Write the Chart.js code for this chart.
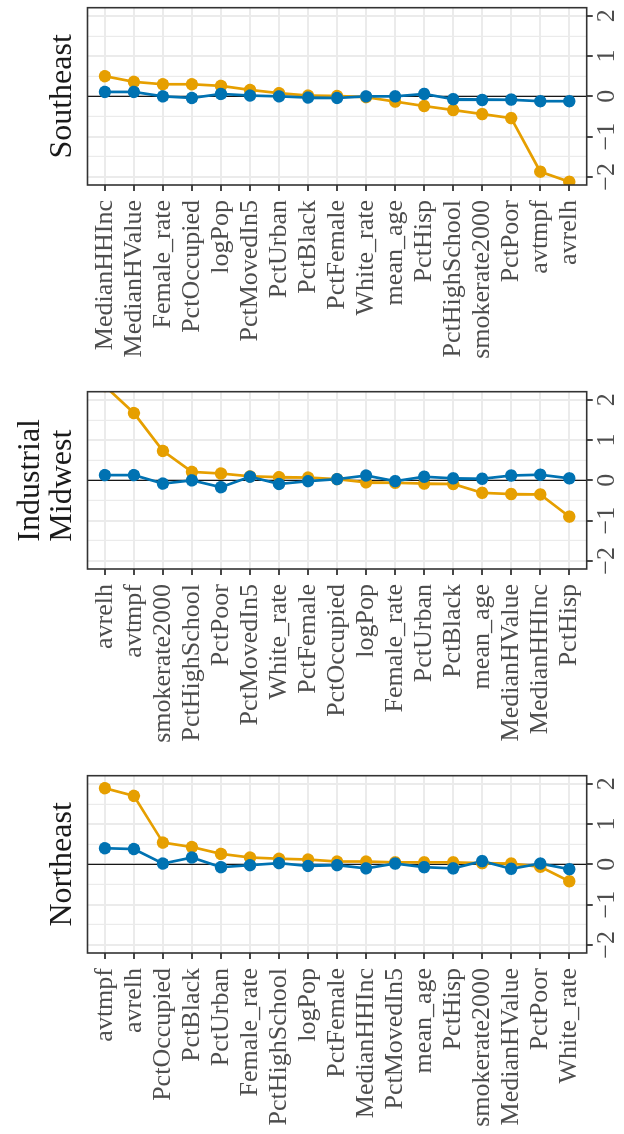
<!DOCTYPE html>
<html>
<head>
<meta charset="utf-8">
<script src="https://cdn.jsdelivr.net/npm/chart.js@4.4.0/dist/chart.umd.min.js"></script>
<style>
  html, body { margin: 0; padding: 0; background: #fff; overflow: hidden; }
  /* the figure is laid out landscape, then turned a quarter left */
  #page { position: absolute; left: 0; top: 0; width: 1134px; height: 624px;
          transform-origin: 0 0; transform: translateY(1134px) rotate(-90deg); }
  #page canvas { position: absolute; top: 0; }
</style>
</head>
<body>
<div id="page">
  <canvas id="ne" width="366" height="624" style="left:0px"></canvas>
  <canvas id="mw" width="366" height="624" style="left:384px"></canvas>
  <canvas id="se" width="366" height="624" style="left:768px"></canvas>
</div>
<script>
// Northeast
const neVars = ["avtmpf", "avrelh", "PctOccupied", "PctBlack", "PctUrban", "Female_rate",
  "PctHighSchool", "logPop", "PctFemale", "MedianHHInc", "PctMovedIn5", "mean_age",
  "PctHisp", "smokerate2000", "MedianHValue", "PctPoor", "White_rate"];
const neOrange = [1.89, 1.70, 0.54, 0.43, 0.26, 0.17, 0.14, 0.12, 0.07, 0.07, 0.05, 0.05, 0.05, 0.03, 0.02, -0.06, -0.42];
const neBlue = [0.40, 0.38, 0.02, 0.17, -0.07, -0.02, 0.03, -0.04, -0.02, -0.10, 0.02, -0.07, -0.10, 0.08, -0.11, 0.02, -0.12];

// Industrial Midwest
const mwVars = ["avrelh", "avtmpf", "smokerate2000", "PctHighSchool", "PctPoor", "PctMovedIn5",
  "White_rate", "PctFemale", "PctOccupied", "logPop", "Female_rate", "PctUrban", "PctBlack",
  "mean_age", "MedianHValue", "MedianHHInc", "PctHisp"];
const mwOrange = [2.34, 1.67, 0.73, 0.21, 0.17, 0.10, 0.08, 0.07, 0.03, -0.05, -0.06, -0.08, -0.09, -0.31, -0.34, -0.35, -0.90];
const mwBlue = [0.13, 0.13, -0.08, 0.00, -0.17, 0.09, -0.09, -0.02, 0.03, 0.12, -0.02, 0.09, 0.05, 0.04, 0.12, 0.14, 0.05];

// Southeast
const seVars = ["MedianHHInc", "MedianHValue", "Female_rate", "PctOccupied", "logPop", "PctMovedIn5",
  "PctUrban", "PctBlack", "PctFemale", "White_rate", "mean_age", "PctHisp", "PctHighSchool",
  "smokerate2000", "PctPoor", "avtmpf", "avrelh"];
const seOrange = [0.50, 0.36, 0.30, 0.30, 0.26, 0.16, 0.08, 0.02, 0.01, -0.02, -0.13, -0.24, -0.34, -0.44, -0.54, -1.87, -2.12];
const seBlue = [0.11, 0.11, 0.00, -0.04, 0.06, 0.02, 0.00, -0.03, -0.04, 0.00, 0.00, 0.06, -0.07, -0.09, -0.08, -0.12, -0.12];

const valueTicks = [-2, -1, 0, 1, 2];
const valueGrid = [-2, -1.5, -1, -0.5, 0, 0.5, 1, 1.5, 2];

const ORANGE = "#E69F00";
const BLUE = "#0072B2";
const GRID = "#EBEBEB";
const AXIS = "#333333";
const TEXT = "#4D4D4D";
const SERIF = '"Liberation Serif", "Times New Roman", serif';

function fmt(v) {
  return v < 0 ? "\u2212" + Math.abs(v) : String(v);
}

// zero line under the data, panel border over it, strip title on top
const panelDecor = {
  id: "panelDecor",
  beforeDatasetsDraw(chart) {
    const { ctx, chartArea } = chart;
    const x0 = chart.scales.x.getPixelForValue(0);
    ctx.save();
    ctx.strokeStyle = "#000";
    ctx.lineWidth = 1.1;
    ctx.beginPath();
    ctx.moveTo(x0, chartArea.top);
    ctx.lineTo(x0, chartArea.bottom);
    ctx.stroke();
    ctx.restore();
  },
  afterDatasetsDraw(chart) {
    const { ctx, chartArea } = chart;
    ctx.save();
    ctx.strokeStyle = AXIS;
    ctx.lineWidth = 1.6;
    ctx.strokeRect(chartArea.left, chartArea.top, chartArea.right - chartArea.left, chartArea.bottom - chartArea.top);
    ctx.restore();
  },
  afterDraw(chart, args, opts) {
    const { ctx, chartArea } = chart;
    const lines = opts.lines || [];
    ctx.save();
    ctx.font = "32px " + SERIF;
    ctx.fillStyle = "#1A1A1A";
    ctx.textBaseline = "alphabetic";
    ctx.textAlign = "left";
    const w = Math.max(...lines.map(l => ctx.measureText(l).width));
    const left = (chartArea.left + chartArea.right) / 2 - w / 2;
    lines.forEach((l, i) => {
      ctx.fillText(l, left, 71 - (lines.length - 1 - i) * 32);
    });
    ctx.restore();
  }
};

function makePanel(id, title, vars, orange, blue) {
  const ptsOrange = vars.map((v, i) => ({ x: orange[i], y: i }));
  const ptsBlue = vars.map((v, i) => ({ x: blue[i], y: i }));
  const line = (data, color, order) => ({
    data, order, clip: 0, showLine: true, borderColor: color, backgroundColor: color,
    borderWidth: 2.7, pointRadius: 0
  });
  const dots = (data, color, order) => ({
    data, order, clip: 0, showLine: false, borderColor: color, backgroundColor: color,
    borderWidth: 0, pointRadius: 6.2
  });

  new Chart(document.getElementById(id), {
    type: "scatter",
    data: {
      datasets: [dots(ptsBlue, BLUE, 0), dots(ptsOrange, ORANGE, 1), line(ptsBlue, BLUE, 2), line(ptsOrange, ORANGE, 3)]
    },
    options: {
      responsive: false,
      animation: false,
      events: [],
      layout: { padding: { top: 87.5, right: 7.7, bottom: 0, left: 0 } },
      plugins: {
        legend: { display: false },
        tooltip: { enabled: false },
        panelDecor: { lines: title }
      },
      scales: {
        x: {
          type: "linear",
          position: "bottom",
          min: -2.2,
          max: 2.2,
          afterBuildTicks: s => { s.ticks = valueGrid.map(v => ({ value: v })); },
          afterFit: s => { s.height = 37.3; },
          border: { display: false },
          grid: {
            color: GRID,
            lineWidth: c => (c.tick && valueTicks.includes(c.tick.value)) ? 2 : 1.2,
            tickLength: 6,
            tickWidth: 1.8,
            tickColor: c => (c.tick && valueTicks.includes(c.tick.value)) ? AXIS : "rgba(0,0,0,0)"
          },
          ticks: {
            autoSkip: false,
            maxRotation: 0,
            padding: 1,
            color: TEXT,
            font: { family: SERIF, size: 26, lineHeight: 1 },
            callback: v => valueTicks.includes(v) ? fmt(v) : ""
          }
        },
        y: {
          type: "linear",
          position: "left",
          reverse: true,
          min: -0.6,
          max: vars.length - 0.4,
          afterBuildTicks: s => { s.ticks = vars.map((v, i) => ({ value: i })); },
          afterFit: s => { s.width = 181; },
          border: { display: false },
          grid: { color: GRID, lineWidth: 2, tickLength: 6, tickWidth: 1.8, tickColor: AXIS },
          ticks: {
            autoSkip: false,
            padding: 9,
            color: TEXT,
            font: { family: SERIF, size: 26 },
            callback: v => vars[v]
          }
        }
      }
    },
    plugins: [panelDecor]
  });
}

makePanel("ne", ["Northeast"], neVars, neOrange, neBlue);
makePanel("mw", ["Industrial", "Midwest"], mwVars, mwOrange, mwBlue);
makePanel("se", ["Southeast"], seVars, seOrange, seBlue);
</script>
</body>
</html>
